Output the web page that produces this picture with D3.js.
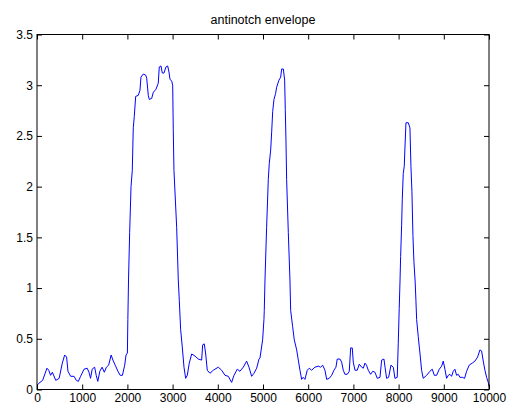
<!DOCTYPE html>
<html>
<head>
<meta charset="utf-8">
<script src="https://cdn.jsdelivr.net/npm/d3@7/dist/d3.min.js"></script>
<style>
  html, body { margin: 0; padding: 0; background: #fff; }
  svg { display: block; }
  text { font-family: "Liberation Sans", Arial, sans-serif; fill: #000; }
</style>
</head>
<body>
<svg id="chart" width="513" height="405"></svg>
<script>
// Envelope samples (sample index, amplitude)
const sampleIndex = [
  0, 37, 125, 220, 260, 300, 340, 415, 490, 560, 612, 655, 685, 745, 820, 870, 915, 965,
  1040, 1110, 1150, 1185, 1220, 1275, 1310, 1345, 1390, 1440, 1490, 1535, 1585, 1640, 1680,
  1730, 1790, 1840, 1890, 1940, 1970, 2000, 2010, 2025, 2050, 2080, 2108, 2130, 2152, 2183,
  2241, 2278, 2300, 2351, 2404, 2427, 2462, 2484, 2537, 2573, 2632, 2683, 2705, 2743, 2772,
  2809, 2853, 2891, 2920, 2942, 2980, 3002, 3015, 3030, 3090, 3126, 3148, 3178, 3214, 3252,
  3289, 3325, 3369, 3422, 3495, 3568, 3643, 3665, 3701, 3732, 3767, 3827, 3900, 4011, 4085,
  4159, 4232, 4306, 4358, 4431, 4490, 4564, 4638, 4690, 4749, 4800, 4860, 4911, 4933, 4992,
  5021, 5028, 5044, 5080, 5117, 5139, 5170, 5192, 5214, 5243, 5280, 5302, 5353, 5391, 5413,
  5450, 5479, 5493, 5508, 5523, 5560, 5596, 5612, 5656, 5692, 5745, 5781, 5818, 5855, 5890,
  5928, 5979, 6024, 6076, 6149, 6223, 6275, 6320, 6371, 6408, 6466, 6519, 6570, 6614, 6643,
  6703, 6740, 6776, 6813, 6864, 6909, 6939, 6975, 6997, 7035, 7085, 7130, 7182, 7219, 7256,
  7290, 7329, 7381, 7430, 7477, 7528, 7588, 7625, 7676, 7700, 7735, 7780, 7831, 7882, 7919,
  7970, 7992, 8014, 8030, 8045, 8067, 8081, 8103, 8125, 8141, 8163, 8214, 8251, 8273, 8295,
  8317, 8339, 8368, 8383, 8399, 8435, 8472, 8509, 8545, 8620, 8693, 8745, 8790, 8841, 8900,
  8952, 8988, 9025, 9062, 9100, 9135, 9172, 9209, 9246, 9283, 9320, 9357, 9410, 9460, 9505,
  9562, 9629, 9689, 9748, 9799, 9836, 9873, 9910, 9947, 9984, 10000
];
const envelope = [
  0.04, 0.06, 0.09, 0.21, 0.19, 0.14, 0.17, 0.09, 0.11, 0.26, 0.34, 0.32, 0.18, 0.13, 0.13, 0.09, 0.08, 0.13,
  0.20, 0.21, 0.17, 0.11, 0.20, 0.22, 0.14, 0.08, 0.18, 0.22, 0.17, 0.22, 0.24, 0.34, 0.29,
  0.24, 0.18, 0.14, 0.14, 0.24, 0.34, 0.36, 0.69, 1.08, 1.55, 2.00, 2.16, 2.58, 2.69, 2.89,
  2.90, 2.95, 3.08, 3.11, 3.10, 3.07, 2.90, 2.86, 2.87, 2.93, 2.96, 3.02, 3.18, 3.19, 3.12,
  3.12, 3.18, 3.19, 3.13, 3.06, 3.04, 3.00, 2.56, 2.16, 1.60, 1.08, 0.88, 0.59, 0.42, 0.22,
  0.11, 0.14, 0.26, 0.35, 0.33, 0.30, 0.29, 0.44, 0.45, 0.35, 0.19, 0.16, 0.19, 0.22, 0.19,
  0.14, 0.13, 0.07, 0.14, 0.20, 0.18, 0.22, 0.28, 0.22, 0.13, 0.16, 0.21, 0.30, 0.31, 0.49,
  0.69, 0.78, 1.08, 1.60, 2.07, 2.23, 2.36, 2.54, 2.74, 2.86, 2.92, 2.98, 3.05, 3.08, 3.16,
  3.16, 3.05, 2.76, 2.46, 2.07, 1.55, 1.08, 0.78, 0.62, 0.49, 0.39, 0.29, 0.19, 0.10, 0.12,
  0.10, 0.19, 0.21, 0.19, 0.22, 0.23, 0.22, 0.24, 0.19, 0.10, 0.11, 0.14, 0.19, 0.22, 0.30,
  0.30, 0.27, 0.19, 0.15, 0.15, 0.18, 0.41, 0.41, 0.27, 0.19, 0.19, 0.25, 0.22, 0.21, 0.26,
  0.24, 0.19, 0.15, 0.18, 0.17, 0.11, 0.12, 0.29, 0.30, 0.22, 0.11, 0.12, 0.24, 0.22, 0.11,
  0.12, 0.45, 0.80, 1.05, 1.31, 1.62, 1.87, 2.13, 2.20, 2.39, 2.63, 2.63, 2.58, 2.20, 1.95,
  1.52, 1.26, 1.05, 0.88, 0.69, 0.52, 0.36, 0.19, 0.11, 0.14, 0.18, 0.20, 0.14, 0.14, 0.20,
  0.23, 0.28, 0.20, 0.11, 0.14, 0.15, 0.13, 0.18, 0.20, 0.14, 0.15, 0.12, 0.12, 0.11, 0.18,
  0.24, 0.26, 0.28, 0.32, 0.39, 0.38, 0.28, 0.19, 0.12, 0.07, 0.03
];
const xTicks = [0, 1000, 2000, 3000, 4000, 5000, 6000, 7000, 8000, 9000, 10000];
const yTicks = [0, 0.5, 1, 1.5, 2, 2.5, 3, 3.5];
const titleText = "antinotch envelope";

const svg = d3.select("#chart");
const box = { left: 37, right: 489, top: 34.5, bottom: 389.5 };

const x = d3.scaleLinear().domain([0, 10000]).range([box.left, box.right]);
const y = d3.scaleLinear().domain([0, 3.5]).range([box.bottom, box.top]);

// Envelope trace
const points = sampleIndex.map((s, i) => [s, envelope[i]]);
const line = d3.line().x(d => x(d[0])).y(d => y(d[1]));

svg.append("clipPath").attr("id", "plotClip")
  .append("rect")
  .attr("x", box.left).attr("y", box.top)
  .attr("width", box.right - box.left).attr("height", box.bottom - box.top);

svg.append("path")
  .datum(points)
  .attr("clip-path", "url(#plotClip)")
  .attr("fill", "none")
  .attr("stroke", "#0000ff")
  .attr("stroke-width", 1)
  .attr("stroke-linejoin", "round")
  .attr("d", line);

// Axes: ticks pointing inward on all four sides, labels on bottom and left only
const tickLen = 5;
const fmtX = d3.format("d");
const fmtY = v => String(v);

const bottomAxis = d3.axisBottom(x).tickValues(xTicks).tickFormat(fmtX)
  .tickSizeInner(-tickLen).tickSizeOuter(0).tickPadding(4);
const topAxis = d3.axisTop(x).tickValues(xTicks).tickFormat("")
  .tickSizeInner(-tickLen).tickSizeOuter(0);
const leftAxis = d3.axisLeft(y).tickValues(yTicks).tickFormat(fmtY)
  .tickSizeInner(-tickLen).tickSizeOuter(0).tickPadding(4);
const rightAxis = d3.axisRight(y).tickValues(yTicks).tickFormat("")
  .tickSizeInner(-tickLen).tickSizeOuter(0);

function styleAxis(g) {
  g.select(".domain").remove();
  g.selectAll(".tick line").attr("stroke", "#000").attr("stroke-width", 1);
  g.selectAll(".tick text")
    .attr("font-family", "'Liberation Sans', Arial, sans-serif")
    .attr("font-size", 12).attr("fill", "#000");
}

svg.append("g").attr("transform", `translate(0,${box.bottom})`).call(bottomAxis).call(styleAxis);
svg.append("g").attr("transform", `translate(0,${box.top})`).call(topAxis).call(styleAxis);
svg.append("g").attr("transform", `translate(${box.left},0)`).call(leftAxis).call(styleAxis);
svg.append("g").attr("transform", `translate(${box.right},0)`).call(rightAxis).call(styleAxis);

// Axes frame
svg.append("rect")
  .attr("x", box.left).attr("y", box.top)
  .attr("width", box.right - box.left).attr("height", box.bottom - box.top)
  .attr("fill", "none").attr("stroke", "#000").attr("stroke-width", 1);

// Title
svg.append("text")
  .attr("x", (box.left + box.right) / 2)
  .attr("y", 24)
  .attr("text-anchor", "middle")
  .attr("font-size", 12.5)
  .text(titleText);
</script>
</body>
</html>
